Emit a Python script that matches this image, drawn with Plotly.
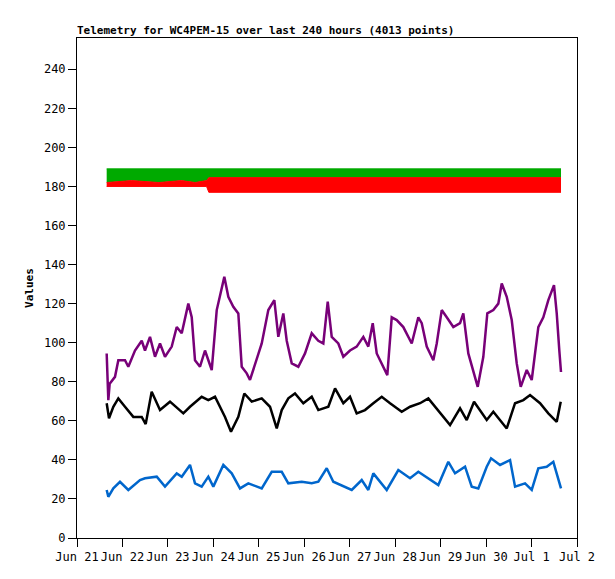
import pandas as pd
import plotly.graph_objects as go

BASE = pd.Timestamp("2024-06-21")

purple_d = [0.653,0.689,0.719,0.836,0.909,1.056,1.129,1.276,1.424,1.496,1.606,1.716,1.826,1.936,2.084,2.194,2.304,2.449,2.524,2.596,2.706,2.816,2.964,3.074,3.241,3.329,3.439,3.549,3.624,3.734,3.806,3.916,4.064,4.209,4.341,4.429,4.539,4.614,4.724,4.869,5.016,5.164,5.309,5.419,5.516,5.604,5.749,5.859,6.006,6.153,6.299,6.409,6.506,6.594,6.739,6.827,6.924,7.034,7.179,7.364,7.509,7.584,7.694,7.839,7.914,8.024,8.134,8.279,8.427,8.499,8.609,8.719,8.816,8.939,9.027,9.159,9.269,9.344,9.454,9.564,9.674,9.762,9.894,10.004,10.149,10.259,10.369,10.494,10.554,10.611,10.648]
purple_v = [94.5,70.6,79,82.5,91,91,87.7,96,101,96,103,92.8,99.6,92.8,98,108,104.8,120,113,91,87.7,96,86,116.7,133.7,123.5,118.4,115,87.7,84.3,80.9,89.4,99.6,116.7,121.8,103,115,101,89.4,87.7,94.5,104.8,101,99.6,121,103,99.6,92.8,96,98,103,98,110,94.5,87.7,83.4,113,111.6,108,99.6,113,110,98,91,99.6,116.7,113,108,110,115,94.5,86,77.4,92.8,115,116.7,120,130.3,123.5,111.6,89.4,77.4,86,80.9,108,113,121.8,129.5,115,96,85]

black_d = [0.653,0.704,0.799,0.909,1.056,1.239,1.424,1.511,1.643,1.826,2.046,2.339,2.486,2.743,2.889,3.036,3.256,3.388,3.549,3.681,3.844,4.064,4.246,4.394,4.504,4.649,4.796,4.979,5.164,5.309,5.529,5.677,5.859,6.006,6.153,6.336,6.519,6.704,6.887,7.144,7.327,7.547,7.729,7.987,8.207,8.427,8.574,8.735,8.867,9.014,9.159,9.454,9.637,9.820,9.967,10.187,10.369,10.554,10.642]
black_v = [69,61.3,67.2,71.5,67.2,62,62,58.3,74.9,65.5,69.8,63.8,67.2,72.3,70.6,72.3,62,54.4,62,74,69.8,71.5,67.2,56.1,65.5,71.5,74,69,72.3,65.5,67.2,76.6,69,72.3,63.8,65.5,69,72.3,69,64.6,67.2,69,71.5,63.8,57.8,66.4,60.4,69.8,65.5,60.4,64.6,56.1,69,70.6,73.2,69,63.8,59.5,69.8]

blue_d = [0.653,0.689,0.799,0.946,1.129,1.386,1.496,1.754,1.936,2.194,2.304,2.486,2.596,2.743,2.889,2.999,3.219,3.404,3.586,3.769,4.064,4.284,4.504,4.649,4.944,5.164,5.309,5.494,5.639,5.859,6.044,6.264,6.409,6.519,6.814,7.069,7.327,7.509,7.767,7.949,8.169,8.317,8.537,8.684,8.829,9.014,9.109,9.307,9.527,9.637,9.857,10.004,10.149,10.334,10.479,10.589,10.648]
blue_v = [24.6,21.1,25.4,28.8,24.6,29.7,30.6,31.4,26.3,33.1,31.4,37.4,28,26.3,31.4,26.3,37.4,33.1,25.4,28,25.4,33.9,33.9,28,28.8,28,28.8,35.7,28.8,26.3,24.6,29.7,24.6,33.1,24.6,34.8,30.6,33.9,29.7,27.1,39,33.1,36.5,26.3,25.4,36.5,40.8,37.4,39.9,26.3,28,24.6,35.7,36.5,39,29.7,25.4]

band_d = [0.653,1.2,1.8,2.3,2.6,2.85,2.9,4.0,5.0,6.0,7.0,8.0,9.0,10.0,10.648]
green_hi = [189,189,189,189,189,189,189,189,189,189,189,189,189,189,189]
red_hi = [182,183,182,183,182,183,184.5,184.5,184.5,184.5,184.5,184.5,184.5,184.5,184.5]
red_lo = [180,180,180,180,180,180,177,177,177,177,177,177,177,177,177]

def t(ds):
    return [BASE + pd.Timedelta(days=d) for d in ds]

fig = go.Figure()
fig.add_trace(go.Scatter(x=t(band_d), y=red_hi, mode="lines", line=dict(width=0, color="#00aa00"), showlegend=False, hoverinfo="skip"))
fig.add_trace(go.Scatter(x=t(band_d), y=green_hi, mode="lines", fill="tonexty", fillcolor="#00aa00", line=dict(width=1, color="#00aa00"), showlegend=False))
fig.add_trace(go.Scatter(x=t(band_d), y=red_lo, mode="lines", line=dict(width=1, color="#ff0000"), showlegend=False))
fig.add_trace(go.Scatter(x=t(band_d), y=red_hi, mode="lines", fill="tonexty", fillcolor="#ff0000", line=dict(width=1, color="#ff0000"), showlegend=False))

for d, v, c in [(purple_d, purple_v, "#780078"), (black_d, black_v, "#000000"), (blue_d, blue_v, "#0066cc")]:
    fig.add_trace(go.Scatter(x=t(d), y=v, mode="lines", line=dict(width=2.5, color=c), showlegend=False))

W, H = 607, 571
font = dict(family="DejaVu Sans Mono", size=12, color="black")
fig.update_layout(
    width=W, height=H, margin=dict(l=69, r=38, t=30, b=41, autoexpand=False),
    paper_bgcolor="white", plot_bgcolor="white", font=font,
    title=dict(text="<b>Telemetry for WC4PEM-15 over last 240 hours (4013 points)</b>", x=69/W, xanchor="left", y=1-26/H, yanchor="bottom", font=dict(family="DejaVu Sans Mono", size=11)),
)
fig.update_xaxes(type="date", range=[BASE, BASE + pd.Timedelta(days=11)], dtick=86400000, tickformat="%b %-d", automargin=False,
                 ticks="outside", ticklen=8, tickcolor="black", showgrid=False, showline=True, linecolor="black", mirror=True, zeroline=False)
fig.update_yaxes(range=[0, 256], dtick=20, tick0=0, ticks="outside", ticklen=8, tickcolor="black", showgrid=False, automargin=False,
                 showline=True, linecolor="black", mirror=True, zeroline=False,
                 title=dict(text="<b>Values</b>", standoff=8, font=dict(size=11)))
fig.write_html("out.html")
